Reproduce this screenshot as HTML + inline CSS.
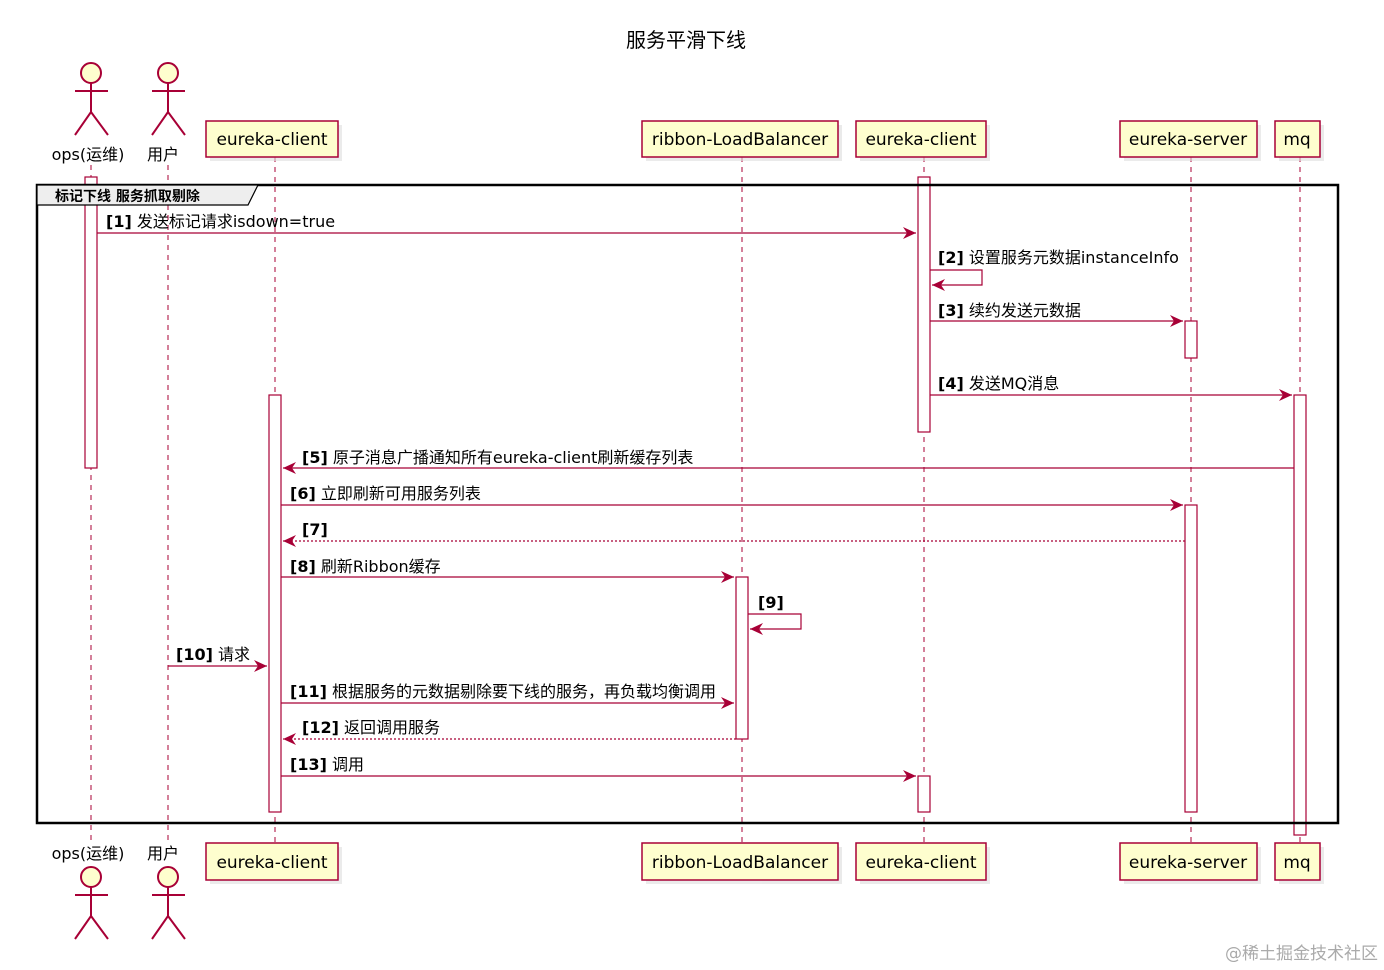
<!DOCTYPE html>
<html><head><meta charset="utf-8"><style>
html,body{margin:0;padding:0;background:#fff;}
svg{display:block;}
text{font-family:"DejaVu Sans","Noto Sans CJK SC",sans-serif;}
</style></head><body>
<svg width="1384" height="970" viewBox="0 0 1384 970" xmlns="http://www.w3.org/2000/svg">
<defs>
<marker id="a" markerWidth="14" markerHeight="12" refX="13" refY="6" orient="auto" markerUnits="userSpaceOnUse">
<path d="M0,0 L13,6 L0,12 L4,6 Z" fill="#A80036"/></marker>
</defs>
<text x="686" y="47" font-size="20" text-anchor="middle" fill="#000">服务平滑下线</text>
<g stroke="#A80036" stroke-width="1" stroke-dasharray="5,5">
<line x1="91" y1="165" x2="91" y2="845"/>
<line x1="168" y1="165" x2="168" y2="845"/>
<line x1="275" y1="157" x2="275" y2="843"/>
<line x1="742" y1="157" x2="742" y2="843"/>
<line x1="924" y1="157" x2="924" y2="843"/>
<line x1="1191" y1="157" x2="1191" y2="843"/>
<line x1="1300" y1="157" x2="1300" y2="843"/>
</g>
<g fill="#ddd" opacity="0.6">
<rect x="210" y="125" width="132" height="36"/><rect x="646" y="125" width="196" height="36"/>
<rect x="860" y="125" width="130" height="36"/><rect x="1124" y="125" width="137" height="36"/>
<rect x="1279" y="125" width="45" height="36"/>
<rect x="210" y="847" width="132" height="37"/><rect x="646" y="847" width="196" height="37"/>
<rect x="860" y="847" width="130" height="37"/><rect x="1124" y="847" width="137" height="37"/>
<rect x="1279" y="847" width="45" height="37"/>
</g>
<g fill="#FEFECE" stroke="#A80036" stroke-width="1.5">
<rect x="206" y="121" width="132" height="36"/><rect x="642" y="121" width="196" height="36"/>
<rect x="856" y="121" width="130" height="36"/><rect x="1120" y="121" width="137" height="36"/>
<rect x="1275" y="121" width="45" height="36"/>
<rect x="206" y="843" width="132" height="37"/><rect x="642" y="843" width="196" height="37"/>
<rect x="856" y="843" width="130" height="37"/><rect x="1120" y="843" width="137" height="37"/>
<rect x="1275" y="843" width="45" height="37"/>
</g>
<g font-size="17" fill="#000" text-anchor="middle">
<text x="272" y="145">eureka-client</text><text x="740" y="145">ribbon-LoadBalancer</text>
<text x="921" y="145">eureka-client</text><text x="1188" y="145">eureka-server</text><text x="1297" y="145">mq</text>
<text x="272" y="868">eureka-client</text><text x="740" y="868">ribbon-LoadBalancer</text>
<text x="921" y="868">eureka-client</text><text x="1188" y="868">eureka-server</text><text x="1297" y="868">mq</text>
</g>
<g fill="none" stroke="#A80036" stroke-width="2">
<circle cx="91" cy="73" r="10" fill="#FEFECE"/><path d="M91,83 V112 M75,91 H108 M75,135 L91,112 L108,135"/>
<circle cx="168" cy="73" r="10" fill="#FEFECE"/><path d="M168,83 V112 M152,91 H185 M152,135 L168,112 L185,135"/>
<circle cx="91" cy="877" r="10" fill="#FEFECE"/><path d="M91,887 V916 M75,895 H108 M75,939 L91,916 L108,939"/>
<circle cx="168" cy="877" r="10" fill="#FEFECE"/><path d="M168,887 V916 M152,895 H185 M152,939 L168,916 L185,939"/>
</g>
<g font-size="16" fill="#000" text-anchor="middle">
<text x="88" y="160">ops(运维)</text><text x="163" y="160">用户</text>
<text x="88" y="859">ops(运维)</text><text x="163" y="859">用户</text>
</g>
<g fill="#fff" stroke="#A80036" stroke-width="1.2">
<rect x="85" y="177" width="12" height="291"/>
<rect x="269" y="395" width="12" height="417"/>
<rect x="736" y="577" width="12" height="162"/>
<rect x="918" y="177" width="12" height="255"/>
<rect x="918" y="776" width="12" height="36"/>
<rect x="1185" y="321" width="12" height="37"/>
<rect x="1185" y="505" width="12" height="307"/>
<rect x="1294" y="395" width="12" height="440"/>
</g>
<rect x="37" y="185" width="1301" height="638" fill="none" stroke="#000" stroke-width="2.5"/>
<path d="M37,185 H258 L248,205 H37 Z" fill="#eee" stroke="#000" stroke-width="1.2"/>
<text x="55" y="201" font-size="14" font-weight="bold" fill="#000">标记下线 服务抓取剔除</text>
<g stroke="#A80036" stroke-width="1.2" fill="none">
<line x1="97" y1="233" x2="916" y2="233" marker-end="url(#a)"/>
<path d="M930,270 H982 V285 H932" marker-end="url(#a)"/>
<line x1="930" y1="321" x2="1183" y2="321" marker-end="url(#a)"/>
<line x1="930" y1="395" x2="1292" y2="395" marker-end="url(#a)"/>
<line x1="1294" y1="468" x2="283" y2="468" marker-end="url(#a)"/>
<line x1="281" y1="505" x2="1183" y2="505" marker-end="url(#a)"/>
<line x1="1185" y1="541" x2="283" y2="541" stroke-dasharray="2,2" marker-end="url(#a)"/>
<line x1="281" y1="577" x2="734" y2="577" marker-end="url(#a)"/>
<path d="M748,614 H801 V629 H750" marker-end="url(#a)"/>
<line x1="168" y1="666" x2="267" y2="666" marker-end="url(#a)"/>
<line x1="281" y1="703" x2="734" y2="703" marker-end="url(#a)"/>
<line x1="736" y1="739" x2="283" y2="739" stroke-dasharray="2,2" marker-end="url(#a)"/>
<line x1="281" y1="776" x2="916" y2="776" marker-end="url(#a)"/>
</g>
<g font-size="16" fill="#000">
<text x="106" y="227"><tspan font-weight="bold">[1]</tspan> 发送标记请求isdown=true</text>
<text x="938" y="263"><tspan font-weight="bold">[2]</tspan> 设置服务元数据instanceInfo</text>
<text x="938" y="316"><tspan font-weight="bold">[3]</tspan> 续约发送元数据</text>
<text x="938" y="389"><tspan font-weight="bold">[4]</tspan> 发送MQ消息</text>
<text x="302" y="463"><tspan font-weight="bold">[5]</tspan> 原子消息广播通知所有eureka-client刷新缓存列表</text>
<text x="290" y="499"><tspan font-weight="bold">[6]</tspan> 立即刷新可用服务列表</text>
<text x="302" y="535"><tspan font-weight="bold">[7]</tspan></text>
<text x="290" y="572"><tspan font-weight="bold">[8]</tspan> 刷新Ribbon缓存</text>
<text x="758" y="608"><tspan font-weight="bold">[9]</tspan></text>
<text x="176" y="660"><tspan font-weight="bold">[10]</tspan> 请求</text>
<text x="290" y="697"><tspan font-weight="bold">[11]</tspan> 根据服务的元数据剔除要下线的服务，再负载均衡调用</text>
<text x="302" y="733"><tspan font-weight="bold">[12]</tspan> 返回调用服务</text>
<text x="290" y="770"><tspan font-weight="bold">[13]</tspan> 调用</text>
</g>
<text x="1378" y="959" font-size="17" fill="#aaa" text-anchor="end">@稀土掘金技术社区</text>
</svg>
</body></html>
